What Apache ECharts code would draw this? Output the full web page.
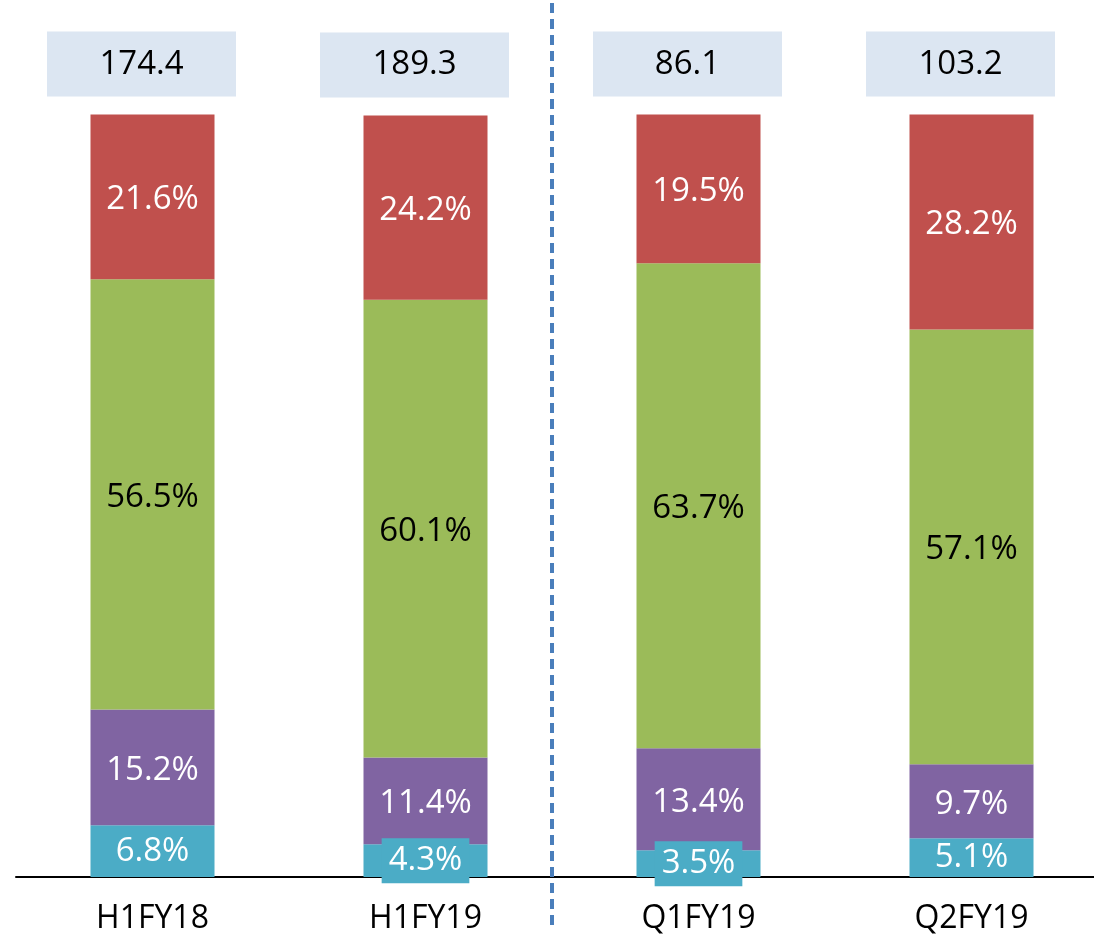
<!DOCTYPE html>
<html>
<head>
<meta charset="utf-8">
<script src="https://cdn.jsdelivr.net/npm/echarts@6/dist/echarts.min.js"></script>
<style>
  html, body { margin: 0; padding: 0; background: #fff; }
  #chart { width: 1094px; height: 939px; }
</style>
</head>
<body>
<div id="chart"></div>
<script>
// categories and values
var categories = ['H1FY18', 'H1FY19', 'Q1FY19', 'Q2FY19'];
var totals = ['174.4', '189.3', '86.1', '103.2'];
var cyanShare = [6.8, 4.3, 3.5, 5.1];
var purpleShare = [15.2, 11.4, 13.4, 9.7];
var greenShare = [56.5, 60.1, 63.7, 57.1];
var redShare = [21.6, 24.2, 19.5, 28.2];

var FONT = 'Open Sans';

function pct(p) {
    return p.value.toFixed(1) + '%';
}

function segment(name, values, color, textColor) {
    return {
        name: name,
        type: 'bar',
        stack: 'share',
        barWidth: 124,
        clip: false,
        data: values,
        itemStyle: { color: color },
        label: {
            show: true,
            position: 'inside',
            offset: [0, 3],
            formatter: pct,
            color: textColor,
            fontFamily: FONT,
            fontSize: 33
        }
    };
}

// the thin cyan slices get a filled label box that spills over the bar edges
var cyanSeries = segment('cyan', cyanShare, '#4bacc6', '#fff');
cyanSeries.label.offset = [0, 0];
cyanSeries.data = cyanShare.map(function (v) {
    if (v >= 5) return v;
    return {
        value: v,
        label: {
            backgroundColor: '#4bacc6',
            padding: [5, 7, 3, 7],
            lineHeight: 37
        }
    };
});

var chart = echarts.init(document.getElementById('chart'));

var option = {
    animation: false,
    grid: { left: 16, width: 1092, top: 115, bottom: 62, outerBoundsMode: 'none' },
    xAxis: {
        type: 'category',
        data: categories,
        axisLine: { lineStyle: { color: '#000', width: 2 } },
        axisTick: { show: false },
        axisLabel: {
            color: '#000',
            fontFamily: FONT,
            fontSize: 32,
            margin: 26
        }
    },
    yAxis: {
        type: 'value',
        min: 0,
        max: 100.05,
        show: false,
        splitLine: { show: false }
    },
    series: [
        cyanSeries,
        segment('purple', purpleShare, '#8064a2', '#fff'),
        segment('green', greenShare, '#9bbb59', '#000'),
        segment('red', redShare, '#c0504d', '#fff'),
        {
            // invisible series used only to hang the total boxes on top of the stack
            name: 'total',
            type: 'bar',
            stack: 'share',
            barWidth: 124,
            clip: false,
            data: categories.map(function () { return 0; }),
            itemStyle: { color: 'transparent' },
            label: {
                show: true,
                position: 'top',
                distance: 18,
                offset: [-11, 0],
                formatter: function (p) { return totals[p.dataIndex]; },
                color: '#000',
                fontFamily: FONT,
                fontSize: 33,
                backgroundColor: '#dce6f2',
                width: 189,
                height: 65,
                lineHeight: 65,
                align: 'center'
            }
        }
    ]
};

chart.setOption(option);

// dashed divider between the half-year and quarter bars
var x1 = chart.convertToPixel({ xAxisIndex: 0 }, 1);
var x2 = chart.convertToPixel({ xAxisIndex: 0 }, 2);
var xd = Math.round((x1 + x2) / 2) - 10;
chart.setOption({
    graphic: [{
        type: 'line',
        z: 100,
        shape: { x1: xd, y1: 3, x2: xd, y2: 930 },
        style: { stroke: '#4a7ebb', lineWidth: 4, lineDash: [10, 6] }
    }]
});
</script>
</body>
</html>
